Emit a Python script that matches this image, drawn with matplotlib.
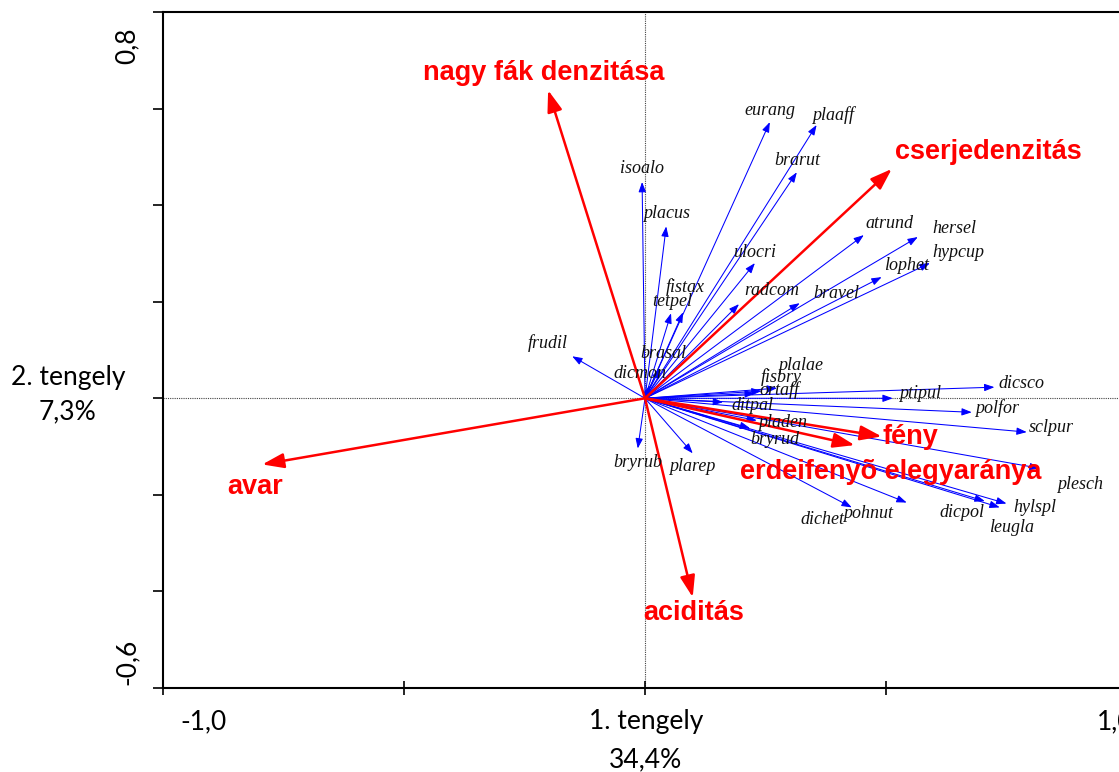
import numpy as np
import matplotlib
matplotlib.use("Agg")
import matplotlib.pyplot as plt

# species scores (blue arrows)
species = ["eurang", "plaaff", "brarut", "atrund", "hersel", "hypcup", "lophet",
           "ulocri", "radcom", "bravel", "fistax", "tetpel", "isoalo", "placus",
           "frudil", "brasal", "dicmon", "plalae", "fisbry", "ortaff", "dicsco",
           "ptipul", "polfor", "sclpur", "ditpal", "pladen", "bryrud", "bryrub",
           "plarep", "plesch", "hylspl", "leugla", "dicpol", "pohnut", "dichet"]
sp_x = [0.259, 0.356, 0.315, 0.454, 0.566, 0.591, 0.491,
        0.228, 0.195, 0.321, 0.079, 0.054, -0.006, 0.044,
        -0.151, 0.031, 0.010, 0.274, 0.242, 0.228, 0.725,
        0.514, 0.678, 0.792, 0.162, 0.232, 0.218, -0.015,
        0.099, 0.819, 0.750, 0.736, 0.705, 0.543, 0.429]
sp_y = [0.572, 0.566, 0.468, 0.338, 0.334, 0.280, 0.251,
        0.280, 0.195, 0.197, 0.178, 0.176, 0.448, 0.356,
        0.087, 0.062, 0.027, 0.021, 0.015, 0.010, 0.023,
        0.000, -0.029, -0.070, -0.008, -0.046, -0.062, -0.104,
        -0.114, -0.145, -0.218, -0.226, -0.213, -0.216, -0.226]

# environmental variables (red arrows)
env = ["nagy fák denzitása", "cserjedenzitás", "avar", "aciditás", "fény",
       "erdeifenyõ elegyaránya"]
env_x = [-0.201, 0.512, -0.794, 0.099, 0.491, 0.435]
env_y = [0.638, 0.475, -0.137, -0.412, -0.079, -0.097]

# label offsets in pixels from arrow tip
sp_off = {"eurang": (0, 12), "plaaff": (16, 10), "brarut": (0, 12), "atrund": (26, 12),
          "hersel": (37, 9), "hypcup": (28, 11), "lophet": (25, 12), "ulocri": (0, 11),
          "radcom": (33, 14), "bravel": (37, 10), "fistax": (2, 25), "tetpel": (1, 12),
          "isoalo": (0, 13), "placus": (0, 13), "frudil": (-24, 13), "brasal": (3, 15),
          "dicmon": (-10, 12), "plalae": (23, 23), "fisbry": (20, 14), "ortaff": (25, 3),
          "dicsco": (27, 4), "ptipul": (27, 5), "polfor": (25, 4), "sclpur": (25, 5),
          "ditpal": (29, -3), "pladen": (26, -2), "bryrud": (25, -11), "bryrub": (0, -14),
          "plarep": (0, -13), "plesch": (40, -16), "hylspl": (28, -4), "leugla": (12, -20),
          "dicpol": (-23, -11), "pohnut": (-39, -11), "dichet": (-29, -12)}
env_off = [(-4, 17), (97, 17), (-7, -23), (1, -16), (29, -1), (36, -27)]

W, H = 1119, 772
fig = plt.figure(figsize=(W / 100, H / 100), dpi=100)
ax = fig.add_axes([163 / W, (H - 688) / H, (1127 - 163) / W, (688 - 12) / H])
ax.set_xlim(-1.0, 1.0)
ax.set_ylim(-0.6, 0.8)

ax.axhline(0, color="#444444", lw=0.8, ls=(0, (1, 1)), zorder=1)
ax.axvline(0, color="#444444", lw=0.8, ls=(0, (1, 1)), zorder=1)

for i, s in enumerate(species):
    ax.annotate("", xy=(sp_x[i], sp_y[i]), xytext=(0, 0),
                arrowprops=dict(arrowstyle="-|>,head_length=0.6,head_width=0.22",
                                color="#0000ff", lw=0.75, mutation_scale=10,
                                shrinkA=0, shrinkB=0), zorder=3)
    dx, dy = sp_off[s]
    ax.annotate(s, xy=(sp_x[i], sp_y[i]), xytext=(dx, dy), textcoords="offset pixels",
                ha="center", va="center", fontsize=13, style="italic",
                family="Liberation Serif", color="#111111", zorder=5)

for i, e in enumerate(env):
    ax.annotate("", xy=(env_x[i], env_y[i]), xytext=(0, 0),
                arrowprops=dict(arrowstyle="-|>,head_length=1.3,head_width=0.45",
                                color="#ff0000", lw=1.8, mutation_scale=10,
                                shrinkA=0, shrinkB=0), zorder=4)
    dx, dy = env_off[i]
    ax.annotate(e, xy=(env_x[i], env_y[i]), xytext=(dx, dy), textcoords="offset pixels",
                ha="center", va="center", fontsize=19.5, fontweight="bold",
                family="Liberation Sans", color="#ff0000", zorder=6)

ax.spines["right"].set_visible(False)
for sp in ["left", "bottom", "top"]:
    ax.spines[sp].set_linewidth(1.5)
ax.set_xticks(np.arange(-1.0, 1.01, 0.5))
ax.set_yticks(np.arange(-0.6, 0.81, 0.2))
ax.set_xticklabels([])
ax.set_yticklabels([])
ax.tick_params(axis="x", direction="inout", length=10, width=1.2)
ax.tick_params(axis="y", direction="out", length=7, width=1.2)

# axis texts placed like the original
tf = dict(family="Lato", fontsize=19, color="black", ha="center", va="center")
fig.text(204 / W, 1 - 722 / H, "-1,0", **tf)
fig.text(1115 / W, 1 - 722 / H, "1,0", **tf)
fig.text(646 / W, 1 - 722 / H, "1. tengely", **tf)
fig.text(645 / W, 1 - 760 / H, "34,4%", **tf)
fig.text(127 / W, 1 - 46 / H, "0,8", rotation=90, **tf)
fig.text(127 / W, 1 - 662 / H, "-0,6", rotation=90, **tf)
fig.text(68 / W, 1 - 378 / H, "2. tengely", **tf)
fig.text(68 / W, 1 - 412 / H, "7,3%", **tf)

fig.savefig("out.png", dpi=100)
